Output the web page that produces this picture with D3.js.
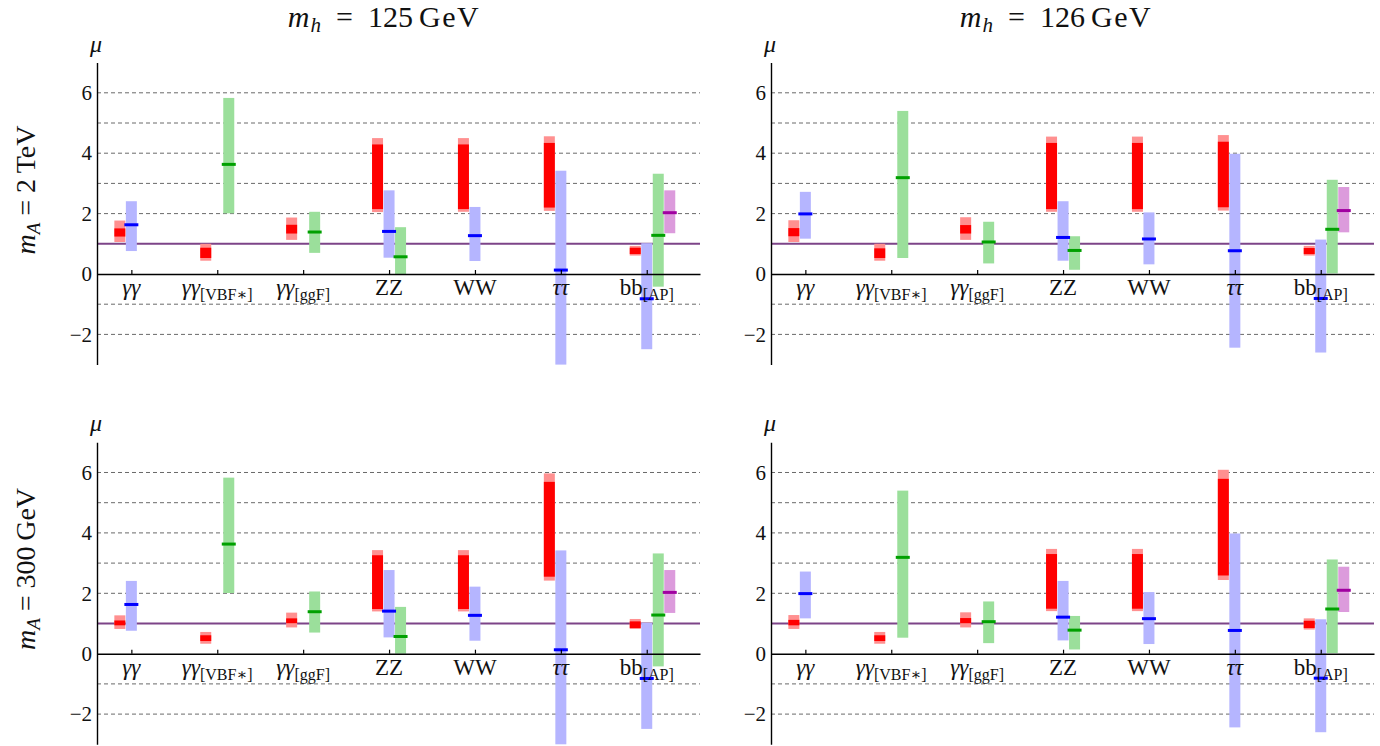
<!DOCTYPE html>
<html><head><meta charset="utf-8">
<script src="https://cdn.jsdelivr.net/npm/d3@7"></script>
<style>
body{margin:0;background:#fff}
svg{display:block}
text{font-family:"Liberation Serif","DejaVu Serif",serif;fill:#111}
</style>
</head><body><svg id="c" width="1380" height="746"></svg>
<script>
// ---------- data ----------
const catMain = ["γγ","γγ","γγ","ZZ","WW","ττ","bb"];
const catItalic = [true,true,true,false,false,true,false];
const catSub = ["","[VBF∗]","[ggF]","","","","[AP]"];
const colTitles = ["125","126"];          // m_h
const rowTitles = ["2 TeV","300 GeV"];    // m_A
const yTicks = [-2,0,2,4,6];
const gridVals = [-2,-1,2,3,4,5,6];
const refLine = 1;

// red bands per panel: [outerLo, innerLo, innerHi, outerHi]
const red_125_2TeV = [[1.06,1.24,1.51,1.77],[0.44,0.53,0.87,1.00],[1.13,1.34,1.63,1.87],[2.05,2.15,4.29,4.50],[2.06,2.15,4.29,4.50],[2.09,2.20,4.34,4.56],[0.61,0.66,0.87,0.93]];
const red_126_2TeV = [[1.06,1.25,1.52,1.78],[0.44,0.53,0.85,1.00],[1.13,1.34,1.62,1.88],[2.06,2.15,4.34,4.55],[2.06,2.15,4.34,4.55],[2.10,2.21,4.38,4.60],[0.61,0.66,0.86,0.93]];
const red_125_300 = [[0.82,0.94,1.10,1.27],[0.33,0.42,0.61,0.72],[0.87,1.01,1.17,1.36],[1.40,1.48,3.26,3.43],[1.40,1.48,3.26,3.43],[2.42,2.55,5.69,5.97],[0.82,0.85,1.07,1.15]];
const red_126_300 = [[0.82,0.94,1.12,1.28],[0.33,0.42,0.61,0.72],[0.87,1.01,1.18,1.37],[1.41,1.49,3.30,3.47],[1.41,1.49,3.30,3.47],[2.44,2.59,5.79,6.09],[0.80,0.85,1.09,1.17]];

// blue / green / magenta per column: [lo, central, hi]
const blue_125 = [[0.76,1.63,2.41],null,null,[0.54,1.41,2.77],[0.43,1.27,2.22],[-3.0,0.13,3.42],[-2.49,-0.82,1.02]];
const blue_126 = [[1.17,1.99,2.72],null,null,[0.44,1.21,2.41],[0.32,1.16,2.04],[-2.44,0.77,3.98],[-2.60,-0.81,1.14]];
const green_125 = [null,[2.01,3.63,5.83],[0.70,1.39,2.06],[0.0,0.57,1.55],null,null,[-0.42,1.28,3.32]];
const green_126 = [null,[0.53,3.19,5.40],[0.35,1.06,1.73],[0.14,0.78,1.25],null,null,[0.02,1.48,3.12]];
const mag_125 = [null,null,null,null,null,null,[1.35,2.03,2.77]];
const mag_126 = [null,null,null,null,null,null,[1.38,2.10,2.88]];

const panels = [
  {col:0,row:0,red:red_125_2TeV,blue:blue_125,green:green_125,mag:mag_125},
  {col:1,row:0,red:red_126_2TeV,blue:blue_126,green:green_126,mag:mag_126},
  {col:0,row:1,red:red_125_300,blue:blue_125,green:green_125,mag:mag_125},
  {col:1,row:1,red:red_126_300,blue:blue_126,green:green_126,mag:mag_126}
];

// ---------- layout / style ----------
const axisX = [97, 771];
const topY = [62.6, 442.3];
const plotW = 603, plotH = 302;
const C = {
  redL:"#ff9090", redD:"#ff0000",
  blueL:"#b5b5ff", blueD:"#0000ff",
  greenL:"#9bdf9b", greenD:"#00a000",
  magL:"#dc9bdc", magD:"#a000a0",
  purple:"#7d4488", grid:"#6a6a6a"
};
const off = {red:-0.134, blue:0, green:0.134, mag:0.268};
const bwU = 0.128;

const svg = d3.select("#c");

const x = d3.scaleLinear().domain([0.6, 7.62]).range([0, plotW]);
const y = d3.scaleLinear().domain([-3, 7]).range([plotH, 0]);
const bw = x(bwU) - x(0);

panels.forEach(p => {
  const g = svg.append("g").attr("transform", `translate(${axisX[p.col]},${topY[p.row]})`);

  // grid
  g.selectAll("line.grid").data(gridVals).join("line")
    .attr("x1", 0).attr("x2", plotW)
    .attr("y1", d => y(d)).attr("y2", d => y(d))
    .attr("stroke", C.grid).attr("stroke-width", 1).attr("stroke-dasharray", "4,3");

  // reference line at mu=1
  g.append("line").attr("x1", 0).attr("x2", plotW)
    .attr("y1", y(refLine)).attr("y2", y(refLine))
    .attr("stroke", C.purple).attr("stroke-width", 2);

  const idx = d3.range(catMain.length);
  const cx = (i, o) => x(i + 1 + o);

  // red bands
  idx.forEach(i => {
    const r = p.red[i]; if (!r) return;
    g.append("rect").attr("x", cx(i, off.red) - bw/2).attr("width", bw)
      .attr("y", y(r[3])).attr("height", y(r[0]) - y(r[3])).attr("fill", C.redL);
    g.append("rect").attr("x", cx(i, off.red) - bw/2).attr("width", bw)
      .attr("y", y(r[2])).attr("height", y(r[1]) - y(r[2])).attr("fill", C.redD);
  });

  const drawRange = (arr, o, light) => {
    idx.forEach(i => {
      const r = arr[i]; if (!r) return;
      g.append("rect").attr("x", cx(i, o) - bw/2).attr("width", bw)
        .attr("y", y(r[2])).attr("height", y(r[0]) - y(r[2])).attr("fill", light);
    });
  };
  const drawCentral = (arr, o, dark) => {
    idx.forEach(i => {
      const r = arr[i]; if (!r) return;
      g.append("rect").attr("x", cx(i, o) - bw/2 - 1.5).attr("width", bw + 3)
        .attr("y", y(r[1]) - 1.5).attr("height", 3).attr("fill", dark);
    });
  };
  drawRange(p.blue, off.blue, C.blueL);
  drawRange(p.green, off.green, C.greenL);
  drawRange(p.mag, off.mag, C.magL);
  drawCentral(p.blue, off.blue, C.blueD);
  drawCentral(p.green, off.green, C.greenD);
  drawCentral(p.mag, off.mag, C.magD);

  // x axis at mu = 0
  const xa = g.append("g").attr("transform", `translate(0,${y(0)})`)
    .call(d3.axisBottom(x).tickValues(d3.range(1, catMain.length + 1)).tickSizeInner(-4).tickSizeOuter(0).tickFormat(""));
  xa.select(".domain").attr("stroke", "#000").attr("stroke-width", 1.4);
  xa.selectAll(".tick line").attr("stroke", "#000").attr("stroke-width", 1.2);

  // y axis
  const ya = g.append("g")
    .call(d3.axisLeft(y).tickValues(yTicks).tickSize(0).tickPadding(5));
  ya.attr("font-family", null).attr("font-size", 21);
  ya.select(".domain").attr("stroke", "#000").attr("stroke-width", 1.4);
  ya.selectAll(".tick text").style("font-size", "21px").style("font-family", "'Liberation Serif', serif").attr("fill", "#111");

  // mu label
  g.append("text").attr("x", -1).attr("y", -11).attr("text-anchor", "middle")
    .style("font-size", "24px").attr("font-style", "italic").text("μ");

  // category labels
  idx.forEach(i => {
    const t = g.append("text").attr("x", x(i + 1)).attr("y", y(0) + 21)
      .attr("text-anchor", "middle").style("font-size", "23px");
    t.append("tspan").attr("font-style", catItalic[i] ? "italic" : "normal").text(catMain[i]);
    if (catSub[i]) t.append("tspan").style("font-size", "16px").attr("dy", 5).text(catSub[i]);
  });
});

// column titles
const colCenter = [384, 1056];
colTitles.forEach((v, c) => {
  const t = svg.append("text").attr("x", colCenter[c]).attr("y", 27)
    .attr("text-anchor", "middle").style("font-size", "30px");
  t.append("tspan").attr("font-style", "italic").style("letter-spacing", "1px").text("m");
  t.append("tspan").attr("font-style", "italic").style("font-size", "21px").attr("dy", 5).text("h");
  t.append("tspan").attr("dy", -5).text("\u2002=\u2002" + v + "\u2009");
  t.append("tspan").style("letter-spacing", "1.5px").text("GeV");
});

// row titles
const rowCenter = [190, 569];
rowTitles.forEach((v, r) => {
  const t = svg.append("text").attr("transform", `translate(35,${rowCenter[r]}) rotate(-90)`)
    .attr("text-anchor", "middle").style("font-size", "28px");
  t.append("tspan").attr("font-style", "italic").text("m");
  t.append("tspan").attr("font-style", "italic").style("font-size", "19px").attr("dy", 5).text("A");
  t.append("tspan").attr("dy", -5).text(" = " + v.replace(" ", "\u2009"));
});
</script></body></html>
